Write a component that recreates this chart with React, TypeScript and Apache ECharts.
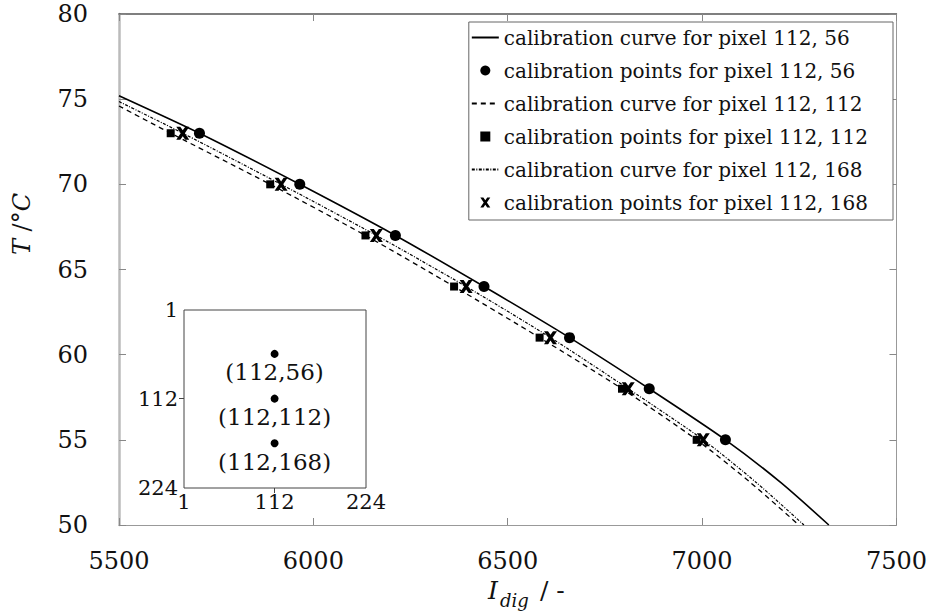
import React, { useEffect, useRef } from "react";
import * as echarts from "echarts";

// Calibration temperatures (°C) at which the points were measured
const calibTemps = [73, 70, 67, 64, 61, 58, 55];

// Digital intensity of each calibration point, per pixel
const points56 = [5707, 5965, 6211, 6439, 6659, 6864, 7060];
const points112 = [5633, 5889, 6134, 6362, 6582, 6794, 6986];
const points168 = [5664, 5917, 6162, 6393, 6610, 6810, 7003];

// Fitted calibration curves: intensity samples and temperatures
const curve56I = [5500, 5707, 5965, 6211, 6439, 6659, 6864, 7060, 7202, 7326];
const curve56T = [75.2, 73.0, 70.0, 67.0, 64.0, 61.0, 58.0, 55.0, 52.5, 50.0];
const curve112I = [5500, 5633, 5889, 6134, 6362, 6582, 6794, 6986, 7124, 7249];
const curve112T = [74.6, 73.0, 70.0, 67.0, 64.0, 61.0, 58.0, 55.0, 52.5, 50.0];
const curve168I = [5500, 5664, 5917, 6162, 6393, 6610, 6810, 7003, 7139, 7262];
const curve168T = [74.86, 73.0, 70.0, 67.0, 64.0, 61.0, 58.0, 55.0, 52.5, 50.0];

// Pixel positions on the 224 x 224 sensor
const pixelCols = [112, 112, 112];
const pixelRows = [56, 112, 168];
const sensorTicks = [1, 112, 224];

const legendNames = [
  "calibration curve for pixel 112, 56",
  "calibration points for pixel 112, 56",
  "calibration curve for pixel 112, 112",
  "calibration points for pixel 112, 112",
  "calibration curve for pixel 112, 168",
  "calibration points for pixel 112, 168",
];

const FONT = '"DejaVu Serif", serif';
const CROSS = "path://M0,0 L4,0 L6.5,3.6 L9,0 L13,0 L8.6,6.5 L13,13 L9,13 L6.5,9.4 L4,13 L0,13 L4.4,6.5 Z";
const SQUARE = "path://M0,0 L10,0 L10,10 L0,10 Z";

const zip = (xs: number[], ys: number[]) => xs.map((x, i) => [x, ys[i]]);

export default function App() {
  const ref = useRef<HTMLDivElement>(null);

  useEffect(() => {
    if (!ref.current) return;
    const chart = echarts.init(ref.current, null, { renderer: "svg" });

    const tickLabel = { fontFamily: FONT, fontSize: 24, color: "#111" };
    const plain = (v: number) => String(v);

    const curve = (name: string, xs: number[], ys: number[], width: number, type: any) => ({
      name,
      type: "line",
      xAxisIndex: 0,
      yAxisIndex: 0,
      data: zip(xs, ys),
      smooth: 0.25,
      symbol: "none",
      lineStyle: { color: "#000", width, type },
      itemStyle: { color: "rgba(0,0,0,0)", opacity: 0 },
      z: 3,
    });

    const points = (name: string, xs: number[], symbol: string, size: number) => ({
      name,
      type: "scatter",
      xAxisIndex: 0,
      yAxisIndex: 0,
      data: zip(xs, calibTemps),
      symbol,
      symbolSize: size,
      itemStyle: { color: "#000", opacity: 1 },
      z: 4,
    });

    const option: any = {
      animation: false,
      backgroundColor: "#fff",
      grid: [
        { left: 119, top: 14, width: 782, height: 511, show: false },
        {
          left: 184,
          top: 310,
          width: 182,
          height: 178,
          show: true,
          backgroundColor: "#fff",
          borderColor: "#444",
          borderWidth: 1,
          z: 5,
        },
      ],
      xAxis: [
        {
          type: "value",
          gridIndex: 0,
          min: 5500,
          max: 7500,
          interval: 500,
          position: "bottom",
          axisLine: { show: true, lineStyle: { color: "#999", width: 1 } },
          axisTick: { show: true, inside: true, length: 7, lineStyle: { color: "#888" } },
          axisLabel: { ...tickLabel, margin: 24, formatter: plain },
          splitLine: { show: false },
        },
        {
          type: "value",
          gridIndex: 0,
          min: 5500,
          max: 7500,
          interval: 500,
          position: "top",
          axisLine: { show: true, lineStyle: { color: "#555", width: 1.5 } },
          axisTick: { show: true, inside: true, length: 7, lineStyle: { color: "#888" } },
          axisLabel: { show: false },
          splitLine: { show: false },
        },
        {
          type: "value",
          gridIndex: 1,
          min: 1,
          max: 224,
          position: "bottom",
          axisLine: { show: false },
          axisTick: { show: true, inside: false, length: 5, customValues: [112], lineStyle: { color: "#444" } },
          axisLabel: { ...tickLabel, fontSize: 21, margin: 3, customValues: sensorTicks },
          splitLine: { show: false },
          z: 6,
        },
      ],
      yAxis: [
        {
          type: "value",
          gridIndex: 0,
          min: 50,
          max: 80,
          interval: 5,
          position: "left",
          axisLine: { show: true, lineStyle: { color: "#bbb", width: 2.5 } },
          axisTick: { show: true, inside: true, length: 7, lineStyle: { color: "#888" } },
          axisLabel: {
            ...tickLabel,
            margin: 2,
            formatter: (v: number) => `{t|${v}}`,
            rich: { t: { ...tickLabel, padding: [0, 29, 0, 0] } },
          },
          splitLine: { show: false },
        },
        {
          type: "value",
          gridIndex: 0,
          min: 50,
          max: 80,
          interval: 5,
          position: "right",
          axisLine: { show: true, lineStyle: { color: "#999", width: 1 } },
          axisTick: { show: true, inside: true, length: 7, lineStyle: { color: "#888" } },
          axisLabel: { show: false },
          splitLine: { show: false },
        },
        {
          type: "value",
          gridIndex: 1,
          min: 1,
          max: 224,
          inverse: true,
          position: "left",
          axisLine: { show: false },
          axisTick: { show: true, inside: false, length: 5, customValues: [112], lineStyle: { color: "#444" } },
          axisLabel: { ...tickLabel, fontSize: 21, margin: 6, customValues: sensorTicks },
          splitLine: { show: false },
          z: 6,
        },
      ],
      legend: {
        orient: "vertical",
        right: 37,
        top: 22,
        itemWidth: 27,
        itemHeight: 10,
        itemGap: 10,
        symbolKeepAspect: true,
        padding: [4, 25, 6, 2],
        borderColor: "#666",
        borderWidth: 1,
        backgroundColor: "#fff",
        textStyle: { fontFamily: FONT, fontSize: 20, color: "#111", lineHeight: 23 },
        data: legendNames,
      },
      series: [
        curve(legendNames[0], curve56I, curve56T, 1.6, "solid"),
        points(legendNames[1], points56, "circle", 11),
        curve(legendNames[2], curve112I, curve112T, 1.3, [5, 4]),
        points(legendNames[3], points112, SQUARE, 8),
        curve(legendNames[4], curve168I, curve168T, 1.2, [3, 1.5, 1, 1.5]),
        points(legendNames[5], points168, CROSS, 13),
        {
          name: "sensor pixels",
          type: "scatter",
          xAxisIndex: 2,
          yAxisIndex: 2,
          data: zip(pixelCols, pixelRows),
          symbol: "circle",
          symbolSize: 8,
          itemStyle: { color: "#000", opacity: 1 },
          label: {
            show: true,
            position: "bottom",
            distance: 3,
            fontFamily: FONT,
            fontSize: 23,
            color: "#111",
            formatter: (p: any) => `(${p.value[0]},${p.value[1]})`,
          },
          z: 7,
        },
      ],
      graphic: [
        {
          type: "text",
          x: 22,
          y: 224,
          rotation: Math.PI / 2,
          style: {
            text: "{it|T} /°{it|C}",
            fontFamily: FONT,
            fontSize: 24,
            fill: "#111",
            align: "center",
            verticalAlign: "middle",
            rich: {
              it: { fontFamily: FONT, fontSize: 24, fontStyle: "italic", fill: "#111" },
            },
          },
        },
        {
          type: "text",
          x: 488,
          y: 590,
          style: {
            text: "I",
            fontFamily: FONT,
            fontSize: 25,
            fontStyle: "italic",
            fill: "#111",
            align: "left",
            verticalAlign: "middle",
          },
        },
        {
          type: "text",
          x: 500,
          y: 600,
          style: {
            text: "dig",
            fontFamily: FONT,
            fontSize: 18,
            fontStyle: "italic",
            fill: "#111",
            align: "left",
            verticalAlign: "middle",
          },
        },
        {
          type: "text",
          x: 540,
          y: 590,
          style: {
            text: "/ -",
            fontFamily: FONT,
            fontSize: 25,
            fill: "#111",
            align: "left",
            verticalAlign: "middle",
          },
        },
      ],
    };

    chart.setOption(option);
    return () => chart.dispose();
  }, []);

  return (
    <div
      ref={ref}
      style={{ position: "fixed", left: 0, top: 0, width: 930, height: 612 }}
    />
  );
}
